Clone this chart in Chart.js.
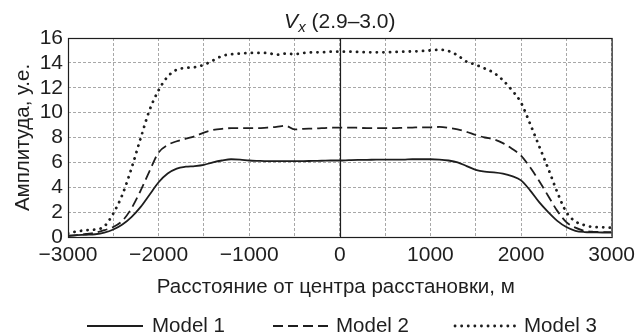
<!DOCTYPE html>
<html>
<head>
<meta charset="utf-8">
<script src="https://cdn.jsdelivr.net/npm/chart.js@4"></script>
<style>
  html, body { margin: 0; padding: 0; background: #fff; }
  #wrap { width: 641px; height: 335px; position: relative; }
</style>
</head>
<body>
<div id="wrap"><canvas id="chart" width="641" height="335"></canvas></div>
<script>
const distance = [
  -3000, -2900, -2800, -2700, -2600, -2500, -2400, -2300, -2200, -2100,
  -2000, -1900, -1800, -1700, -1600, -1500, -1400, -1300, -1200, -1100,
  -1000, -900, -800, -700, -600, -500, -400, -300, -200, -100,
  0, 100, 200, 300, 400, 500, 600, 700, 800, 900,
  1000, 1100, 1200, 1300, 1400, 1500, 1600, 1700, 1800, 1900,
  2000, 2100, 2200, 2300, 2400, 2500, 2600, 2700, 2800, 2900, 3000
];

const model1 = [
  0.10, 0.15, 0.18, 0.22, 0.35, 0.60, 1.00, 1.60, 2.40, 3.40,
  4.40, 5.10, 5.50, 5.65, 5.70, 5.80, 6.00, 6.15, 6.25, 6.22,
  6.15, 6.12, 6.10, 6.10, 6.10, 6.10, 6.10, 6.12, 6.13, 6.15,
  6.15, 6.18, 6.20, 6.20, 6.22, 6.22, 6.22, 6.22, 6.25, 6.25,
  6.25, 6.22, 6.15, 6.00, 5.70, 5.40, 5.25, 5.20, 5.10, 4.90,
  4.55, 3.75, 2.80, 2.00, 1.30, 0.80, 0.50, 0.40, 0.38, 0.36, 0.35
];

const model2 = [
  0.10, 0.15, 0.25, 0.35, 0.55, 0.80, 1.30, 2.30, 3.70, 5.30,
  6.80, 7.40, 7.70, 7.90, 8.10, 8.40, 8.60, 8.70, 8.75, 8.75,
  8.75, 8.75, 8.80, 8.85, 8.95, 8.65, 8.70, 8.72, 8.75, 8.78,
  8.80, 8.80, 8.78, 8.75, 8.75, 8.75, 8.75, 8.78, 8.80, 8.82,
  8.82, 8.85, 8.78, 8.65, 8.45, 8.20, 8.00, 7.85, 7.55, 7.10,
  6.55, 5.60, 4.50, 3.30, 2.10, 1.20, 0.75, 0.50, 0.42, 0.40, 0.40
];

const model3 = [
  0.30, 0.45, 0.55, 0.60, 0.85, 1.90, 3.40, 5.50, 7.90, 10.20,
  11.80, 12.90, 13.45, 13.60, 13.65, 13.85, 14.20, 14.55, 14.70, 14.75,
  14.80, 14.80, 14.80, 14.65, 14.75, 14.70, 14.80, 14.85, 14.85, 14.90,
  14.90, 14.90, 14.88, 14.85, 14.85, 14.85, 14.88, 14.90, 14.92, 14.95,
  15.00, 15.05, 14.95, 14.60, 14.10, 13.85, 13.55, 13.20, 12.60, 11.80,
  10.80, 9.10, 7.30, 5.50, 3.60, 2.00, 1.25, 0.95, 0.80, 0.78, 0.75
];

const seriesNames = ['Model 1', 'Model 2', 'Model 3'];
const xTitle = 'Расстояние от центра расстановки, м';
const yTitle = 'Амплитуда, у.е.';

const FONT = '"Liberation Sans", Arial, Helvetica, sans-serif';
const INK = '#1e1e1e';

const toPoints = (ys) => distance.map((x, i) => ({ x, y: ys[i] }));

const lineStyles = [
  { borderDash: [], borderWidth: 1.8, borderCapStyle: 'butt' },
  { borderDash: [10, 5], borderWidth: 1.8, borderCapStyle: 'butt' },
  { borderDash: [0.1, 6.5], borderWidth: 2.8, borderCapStyle: 'round' },
];

// frame, zero line, title, axis titles and the legend row
const decorations = {
  id: 'decorations',
  afterDatasetsDraw(chart) {
    const { ctx, chartArea: a, scales } = chart;
    ctx.save();
    ctx.setLineDash([]);
    ctx.strokeStyle = INK;
    ctx.lineWidth = 1.2;
    const zx = Math.round(scales.x.getPixelForValue(0)) + 0.5;
    ctx.beginPath();
    ctx.moveTo(zx, a.top);
    ctx.lineTo(zx, a.bottom);
    ctx.stroke();
    ctx.strokeRect(a.left + 0.5, a.top + 0.5, a.right - a.left, a.bottom - a.top);
    ctx.restore();
  },
  afterDraw(chart) {
    const { ctx, chartArea: a } = chart;
    ctx.save();
    ctx.fillStyle = INK;

    // title: V with subscript x, then the range
    const cx = (a.left + a.right) / 2;
    ctx.textBaseline = 'alphabetic';
    ctx.font = `italic 21px ${FONT}`;
    const wV = ctx.measureText('V').width;
    ctx.font = `italic 15px ${FONT}`;
    const wx = ctx.measureText('x').width;
    ctx.font = `21px ${FONT}`;
    const rest = ' (2.9–3.0)';
    const wr = ctx.measureText(rest).width;
    let tx = cx - (wV + wx + wr) / 2;
    ctx.font = `italic 21px ${FONT}`;
    ctx.fillText('V', tx, 28);
    tx += wV;
    ctx.font = `italic 15px ${FONT}`;
    ctx.fillText('x', tx, 32);
    tx += wx;
    ctx.font = `21px ${FONT}`;
    ctx.fillText(rest, tx, 28);

    // axis titles
    ctx.font = `20.5px ${FONT}`;
    ctx.textAlign = 'center';
    ctx.textBaseline = 'middle';
    ctx.fillText(xTitle, cx - 4, 287);
    ctx.save();
    ctx.translate(23, (a.top + a.bottom) / 2);
    ctx.rotate(-Math.PI / 2);
    ctx.fillText(yTitle, 0, 0);
    ctx.restore();

    // legend
    const items = [
      { x0: 87, x1: 143, tx: 152 },
      { x0: 273, x1: 330, tx: 336 },
      { x0: 455, x1: 516, tx: 524 },
    ];
    const ly = 326;
    ctx.textAlign = 'left';
    ctx.font = `20.5px ${FONT}`;
    items.forEach((it, i) => {
      const st = lineStyles[i];
      ctx.save();
      ctx.strokeStyle = INK;
      ctx.lineWidth = st.borderWidth;
      ctx.lineCap = st.borderCapStyle;
      ctx.setLineDash(st.borderDash);
      ctx.beginPath();
      ctx.moveTo(it.x0, ly);
      ctx.lineTo(it.x1, ly);
      ctx.stroke();
      ctx.restore();
      ctx.fillText(seriesNames[i], it.tx, ly);
    });
    ctx.restore();
  },
};

const yTicks = { min: 0, max: 16, step: 2 };
const xTicks = { min: -3000, max: 3000, step: 500, labelEvery: 1000 };

new Chart(document.getElementById('chart'), {
  type: 'line',
  data: {
    datasets: [model1, model2, model3].map((ys, i) => ({
      label: seriesNames[i],
      data: toPoints(ys),
      borderColor: INK,
      backgroundColor: INK,
      pointRadius: 0,
      fill: false,
      cubicInterpolationMode: 'monotone',
      ...lineStyles[i],
    })),
  },
  options: {
    responsive: false,
    animation: false,
    events: [],
    layout: { padding: { top: 38, right: 25, left: 0, bottom: 0 } },
    plugins: { legend: { display: false }, title: { display: false }, tooltip: { enabled: false } },
    scales: {
      x: {
        type: 'linear',
        min: xTicks.min,
        max: xTicks.max,
        afterFit: (s) => { s.height = 98; },
        afterBuildTicks: (s) => {
          s.ticks = [];
          for (let v = xTicks.min; v <= xTicks.max; v += xTicks.step) s.ticks.push({ value: v });
        },
        ticks: {
          padding: 6,
          autoSkip: false,
          maxRotation: 0,
          color: INK,
          font: { family: FONT, size: 21 },
          callback: (v) => (v % xTicks.labelEvery === 0 ? String(v).replace('-', '−') : ''),
        },
        grid: { color: '#a8a8a8', lineWidth: 1, drawTicks: false },
        border: { display: false, dash: [3, 2] },
      },
      y: {
        min: yTicks.min,
        max: yTicks.max,
        afterFit: (s) => { s.width = 68; },
        afterBuildTicks: (s) => {
          s.ticks = [];
          for (let v = yTicks.min; v <= yTicks.max; v += yTicks.step) s.ticks.push({ value: v });
        },
        ticks: {
          padding: 5,
          autoSkip: false,
          color: INK,
          font: { family: FONT, size: 21 },
        },
        grid: { color: '#a8a8a8', lineWidth: 1, drawTicks: false },
        border: { display: false, dash: [3, 2] },
      },
    },
  },
  plugins: [decorations],
});
</script>
</body>
</html>
